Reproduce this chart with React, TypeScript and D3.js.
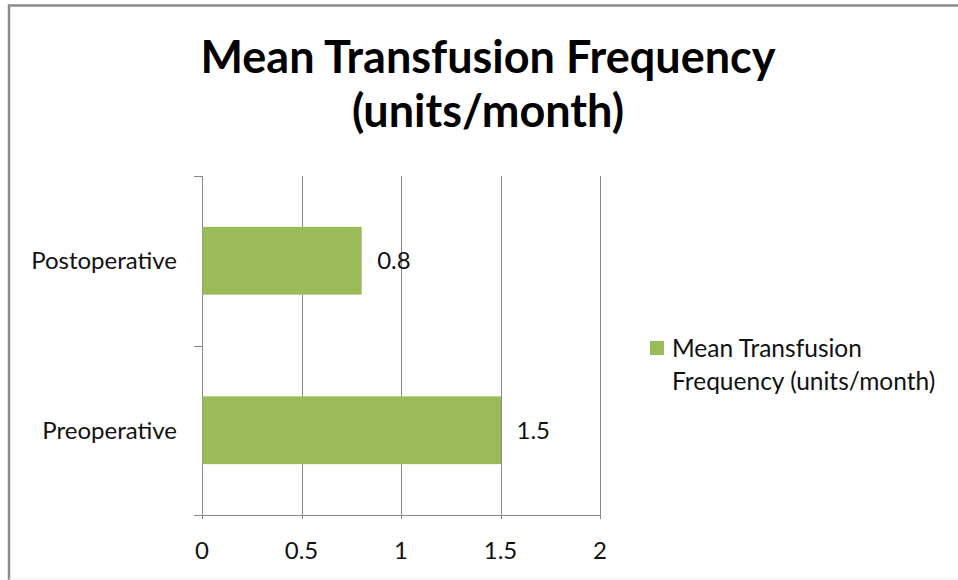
import React from "react";
import * as d3 from "d3";

const categories = ["Postoperative", "Preoperative"];
const values = [0.8, 1.5];
const xTicks = [0, 0.5, 1, 1.5, 2];
const titleLines = ["Mean Transfusion Frequency", "(units/month)"];
const legendLines = ["Mean Transfusion", "Frequency (units/month)"];

const W = 958;
const H = 580;
const plot = { left: 202, right: 600, top: 176, bottom: 515 };
const FONT = "Lato, 'Open Sans', sans-serif";
const BAR = "#9BBB59";
const GRID = "#8a8a8a";

export default function App() {
  const x = d3.scaleLinear().domain([0, 2]).range([plot.left, plot.right]);
  const y = d3
    .scaleBand<string>()
    .domain(categories)
    .range([plot.top, plot.bottom])
    .paddingInner(0.6)
    .paddingOuter(0.3);
  const bandEdges = [plot.top, (plot.top + plot.bottom) / 2, plot.bottom];

  return (
    <svg
      width={W}
      height={H}
      style={{ position: "absolute", left: 0, top: 0, background: "#fff" }}
      fontFamily={FONT}
    >
      <rect x={0} y={0} width={W} height={H} fill="#fff" />
      {/* frame */}
      <line x1={8} x2={W} y1={5.5} y2={5.5} stroke="#8c8c8c" strokeWidth={2.5} />
      <line x1={9} x2={9} y1={4.5} y2={H} stroke="#8c8c8c" strokeWidth={2.5} />
      <line x1={9} x2={W} y1={579} y2={579} stroke="#eeeeee" strokeWidth={1} />

      {/* title */}
      {titleLines.map((t, i) => (
        <text
          key={t}
          x={488}
          y={73 + i * 54}
          textAnchor="middle"
          fontWeight="bold"
          fontSize={45}
          fill="#000"
        >
          {t}
        </text>
      ))}

      {/* gridlines */}
      {xTicks.map((t) => (
        <line
          key={"g" + t}
          x1={Math.round(x(t)) + 0.5}
          x2={Math.round(x(t)) + 0.5}
          y1={plot.top}
          y2={plot.bottom + 4}
          stroke={GRID}
          strokeWidth={1}
        />
      ))}
      {/* x axis line */}
      <line x1={194} x2={plot.right + 0.5} y1={plot.bottom + 0.5} y2={plot.bottom + 0.5} stroke={GRID} />
      {/* y ticks */}
      {bandEdges.map((e, i) => (
        <line key={"yt" + i} x1={194} x2={plot.left} y1={Math.round(e) + 0.5} y2={Math.round(e) + 0.5} stroke={GRID} />
      ))}

      {/* bars */}
      {categories.map((c, i) => (
        <rect
          key={c}
          x={x(0) + 0.5}
          y={y(c)!}
          width={x(values[i]) - x(0)}
          height={y.bandwidth()}
          fill={BAR}
        />
      ))}
      {/* value labels */}
      {categories.map((c, i) => (
        <text
          key={"v" + c}
          x={x(values[i]) + 16}
          y={y(c)! + y.bandwidth() / 2}
          dy="0.35em"
          fontSize={24}
          fill="#111"
        >
          {values[i]}
        </text>
      ))}
      {/* category labels */}
      {categories.map((c) => (
        <text
          key={"c" + c}
          x={177}
          y={y(c)! + y.bandwidth() / 2}
          dy="0.35em"
          textAnchor="end"
          fontSize={24}
          fill="#111"
        >
          {c}
        </text>
      ))}
      {/* x tick labels */}
      {xTicks.map((t) => (
        <text key={"xl" + t} x={x(t)} y={551} dy="0.35em" textAnchor="middle" fontSize={24} fill="#111">
          {t}
        </text>
      ))}

      {/* legend */}
      <rect x={650} y={341} width={14} height={14} fill={BAR} />
      {legendLines.map((l, i) => (
        <text key={l} x={672} y={348 + i * 33} dy="0.35em" fontSize={24.5} fill="#111">
          {l}
        </text>
      ))}
    </svg>
  );
}
